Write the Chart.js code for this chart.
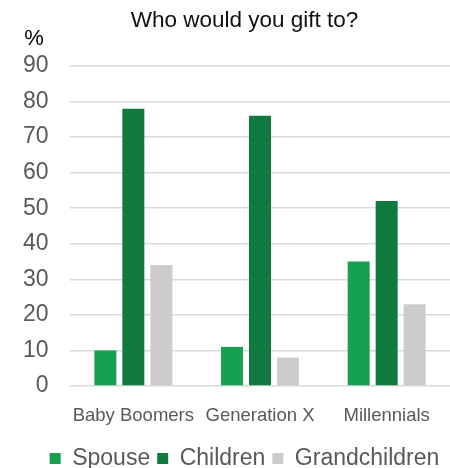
<!DOCTYPE html>
<html>
<head>
<meta charset="utf-8">
<script src="https://cdn.jsdelivr.net/npm/chart.js@4"></script>
<style>
  html, body { margin: 0; padding: 0; background: #fff; overflow: hidden; }
  #wrap { width: 450px; height: 468px; }
</style>
</head>
<body>
<div id="wrap"><canvas id="giftChart"></canvas></div>
<script>
const generations = ['Baby Boomers', 'Generation X', 'Millennials'];
const spouse = [10, 11, 35];
const children = [78, 76, 52];
const grandchildren = [34, 8, 23];

const FONT = '"Liberation Sans", Arial, sans-serif';

// little "%" unit label above the y axis
const unitLabel = {
    id: 'unitLabel',
    afterDraw(chart) {
        const c = chart.ctx;
        c.save();
        c.font = '22px ' + FONT;
        c.fillStyle = '#000';
        c.textAlign = 'center';
        c.textBaseline = 'middle';
        c.fillText('%', 34, 39);
        c.restore();
    }
};

const ctx = document.getElementById('giftChart').getContext('2d');

const giftChart = new Chart(ctx, {
    type: 'bar',
    data: {
        labels: generations,
        datasets: [
            { label: 'Spouse', data: spouse, backgroundColor: '#17a04f' },
            { label: 'Children', data: children, backgroundColor: '#117a3e' },
            { label: 'Grandchildren', data: grandchildren, backgroundColor: '#cccccc' }
        ]
    },
    options: {
        responsive: true,
        maintainAspectRatio: false,
        animation: false,
        categoryPercentage: 0.663,
        barPercentage: 0.786,
        layout: { padding: { left: 39, right: 0, top: 0, bottom: -12 } },
        scales: {
            x: {
                grid: { display: false },
                border: { display: false },
                ticks: {
                    color: '#595959',
                    padding: 11,
                    maxRotation: 0,
                    minRotation: 0,
                    autoSkip: false,
                    font: { family: FONT, size: 18.5 }
                },
                afterFit(scale) { scale.height = 54; }
            },
            y: {
                min: 0,
                max: 90,
                grid: { color: '#d9d9d9', lineWidth: 1.5, drawTicks: false },
                border: { display: false },
                // mirrored so the labels are not clipped to the narrow axis box;
                // 'far' + negative padding puts them back, right-aligned, left of the plot
                ticks: {
                    stepSize: 10,
                    color: '#595959',
                    mirror: true,
                    crossAlign: 'far',
                    padding: -47,
                    font: { family: FONT, size: 23 }
                },
                afterFit(scale) { scale.width = 31; }
            }
        },
        plugins: {
            title: {
                display: true,
                text: 'Who would you gift to?',
                color: '#111',
                font: { family: FONT, size: 22.5, weight: 'normal' },
                padding: { top: 7, bottom: 32 }
            },
            legend: {
                position: 'bottom',
                labels: {
                    color: '#595959',
                    boxWidth: 11,
                    boxHeight: 11,
                    padding: 7,
                    font: { family: FONT, size: 23 }
                }
            },
            tooltip: { enabled: false }
        }
    },
    plugins: [unitLabel]
});
</script>
</body>
</html>
